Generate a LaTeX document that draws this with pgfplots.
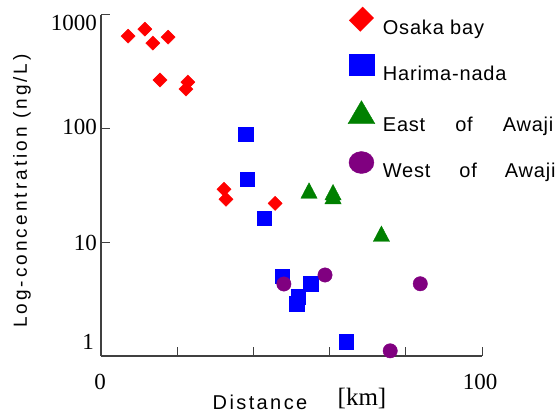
\documentclass[border=0pt]{standalone}
\usepackage{fontspec}
\setmainfont{Liberation Serif}
\newfontfamily\lsans[LetterSpace=16]{Liberation Sans}
\newfontfamily\dsans[LetterSpace=12]{Liberation Sans}
\newfontfamily\legsans[LetterSpace=4]{Liberation Sans}
\usepackage{pgfplots}
\pgfplotsset{compat=1.18}
\definecolor{cred}{RGB}{255,0,0}
\definecolor{cblue}{RGB}{0,0,255}
\definecolor{cgreen}{RGB}{0,128,0}
\definecolor{cpurple}{RGB}{128,0,128}
\begin{document}
\begin{tikzpicture}[x=1pt,y=1pt]
\useasboundingbox (0,0) rectangle (560,412);
\begin{axis}[
  at={(101pt,56pt)}, anchor=south west,
  scale only axis, width=381pt, height=341pt,
  xmin=0, xmax=100, ymode=log, ymin=1, ymax=1000,
  axis x line=bottom, axis y line=left,
  axis line style={-, color=black!75, line width=1.2pt},
  xtick={0,20,40,60,80,100}, ytick={1,10,100,1000},
  xticklabels={}, yticklabels={}, yminorticks=false, xminorticks=false,
  tick align=inside, major tick length=9pt,
  tick style={black!75, line width=1pt},
  clip=false,
  legend cell align=left,
  legend style={draw=none, fill=none, at={(rel axis cs:0.64,1.03)}, anchor=north west,
    row sep=17pt, column sep=6pt, font=\legsans\fontsize{20}{20}\selectfont,
    nodes={inner sep=2pt}},
  legend image code/.code={\draw[#1] plot coordinates {(12pt,8.5pt)};},
]
\addplot[only marks, mark=square*, mark size=5pt, mark options={rotate=45, fill=cred, draw=cred}, forget plot]
  coordinates {(7.1,652)(11.5,751)(13.6,566)(17.6,639)(15.5,268)(22.8,257)(22.3,223)(32.3,29.3)(32.8,23.9)(45.7,22.0)};
\addplot[only marks, mark=square*, mark size=7.3pt, mark options={fill=cblue, draw=cblue}, forget plot]
  coordinates {(38.0,89.6)(38.4,35.8)(42.8,16.3)(47.6,5.05)(55.1,4.30)(51.8,3.32)(51.4,2.87)(64.4,1.34)};
\addplot[only marks, mark=triangle*, mark size=9.4pt, mark options={fill=cgreen, draw=cgreen, yscale=1.1}, forget plot]
  coordinates {(54.6,27.1)(60.9,26.2)(60.9,24.2)(73.6,11.3)};
\addplot[only marks, mark=*, mark size=7.2pt, mark options={fill=cpurple, draw=cpurple}, forget plot]
  coordinates {(48.0,4.30)(58.8,5.16)(83.8,4.32)(75.9,1.11)};
\addlegendimage{only marks, mark=square*, mark size=9.5pt, mark options={rotate=45, yscale=0.82, fill=cred, draw=cred}}
\addlegendentry{Osaka bay}
\addlegendimage{only marks, mark=square*, mark size=12.5pt, mark options={yscale=0.84, fill=cblue, draw=cblue}}
\addlegendentry{Harima-nada}
\addlegendimage{only marks, mark=triangle*, mark size=15.5pt, mark options={yscale=0.99, fill=cgreen, draw=cgreen}}
\addlegendentry{East\hspace{30pt}of\hspace{30pt}Awaji}
\addlegendimage{only marks, mark=*, mark size=12.5pt, mark options={yscale=0.88, fill=cpurple, draw=cpurple}}
\addlegendentry{West\hspace{29pt}of\hspace{28pt}Awaji}
\end{axis}
% tick labels
\node[anchor=east, inner sep=0pt, font=\fontsize{23}{23}\selectfont] at (97,389) {1000};
\node[anchor=east, inner sep=0pt, font=\fontsize{23}{23}\selectfont] at (97,285) {100};
\node[anchor=east, inner sep=0pt, font=\fontsize{23}{23}\selectfont] at (97,169) {10};
\node[anchor=east, inner sep=0pt, font=\fontsize{23}{23}\selectfont] at (94,70) {1};
\node[inner sep=0pt, font=\fontsize{23}{23}\selectfont] at (100,30) {0};
\node[inner sep=0pt, font=\fontsize{23}{23}\selectfont] at (480,30) {100};
% axis labels
\node[rotate=90, inner sep=0pt, font=\lsans\fontsize{19}{19}\selectfont] at (22,221) {Log-concentration (ng/L)};
\node[inner sep=0pt, font=\dsans\fontsize{20}{20}\selectfont] at (260,10) {Distance};
\node[inner sep=0pt, font=\fontsize{25}{25}\selectfont] at (362,13) {[km]};
\end{tikzpicture}
\end{document}
